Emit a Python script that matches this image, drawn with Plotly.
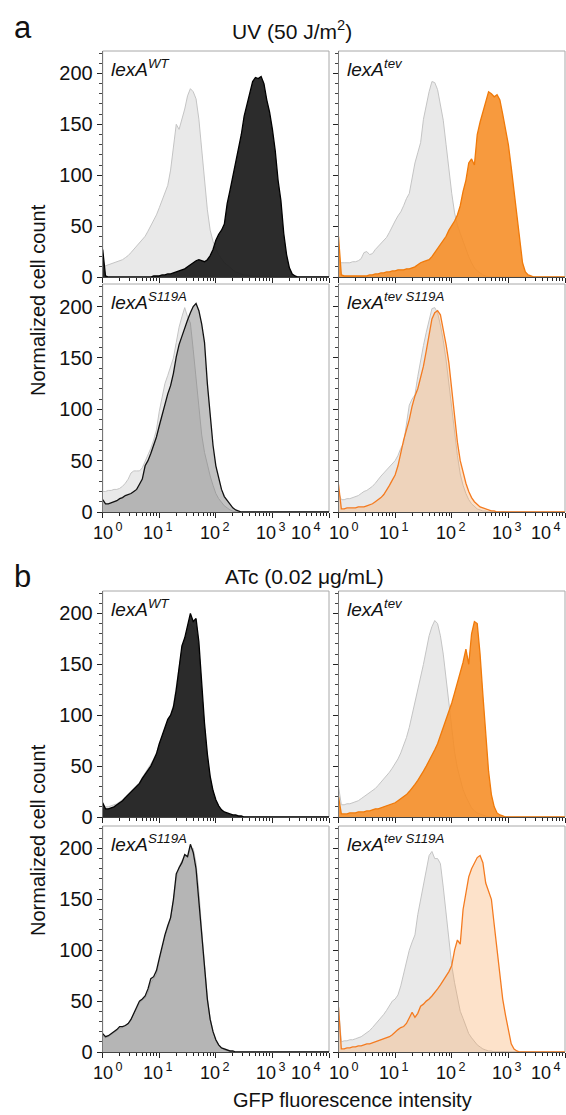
import plotly.graph_objects as go

W, H = 566, 1115
FONT = "Liberation Sans, Arial, sans-serif"

# histogram bins, log10 of GFP fluorescence intensity (0 = 10^0 ... 4 = 10^4)
log_gfp = [
    0.00, 0.05, 0.10, 0.15, 0.20, 0.25, 0.30, 0.35, 0.40, 0.45,
    0.50, 0.55, 0.60, 0.65, 0.70, 0.75, 0.80, 0.85, 0.90, 0.95,
    1.00, 1.05, 1.10, 1.15, 1.20, 1.25, 1.30, 1.35, 1.40, 1.45,
    1.50, 1.55, 1.60, 1.65, 1.70, 1.75, 1.80, 1.85, 1.90, 1.95,
    2.00, 2.05, 2.10, 2.15, 2.20, 2.25, 2.30, 2.35, 2.40, 2.45,
    2.50, 2.55, 2.60, 2.65, 2.70, 2.75, 2.80, 2.85, 2.90, 2.95,
    3.00, 3.05, 3.10, 3.15, 3.20, 3.25, 3.30, 3.35, 3.40, 3.45,
    3.50, 3.55, 3.60, 3.65, 3.70, 3.75, 3.80, 3.85, 3.90, 3.95,
    4.00,
]
Z10 = [0] * 10

# ---- a: UV (50 J/m2) ----
ref_uv_wt = [10, 11, 12, 13, 14, 15, 16, 17, 19, 21,
             24, 27, 30, 33, 37, 40, 45, 50, 55, 61,
             68, 75, 82, 90, 105, 130, 150, 145, 155, 165,
             178, 185, 182, 175, 155, 125, 92, 66, 46, 35,
             28, 22, 18, 14, 12, 9, 7, 5, 4, 3,
             2, 2, 1, 1, 0, 0, 0, 0, 0, 0] + Z10 + Z10 + [0]
uv_wt = [27, 1, 0, 0, 0, 0, 0, 0, 0, 0,
         0, 0, 0, 0, 0, 0, 0, 0, 1, 1,
         1, 2, 2, 3, 3, 4, 5, 6, 7, 8,
         10, 12, 14, 16, 17, 16, 15, 17, 21, 27,
         36, 42, 46, 52, 72, 85, 98, 113, 126, 140,
         158, 170, 181, 192, 196, 195, 197, 190, 174, 162,
         145, 124, 95, 75, 43, 22, 9, 3, 1, 0] + Z10 + [0]

ref_uv_tev = [17, 14, 14, 14, 14, 15, 15, 16, 18, 24,
              25, 22, 23, 27, 30, 33, 36, 39, 44, 50,
              55, 60, 64, 70, 77, 82, 96, 112, 122, 132,
              155, 170, 182, 192, 191, 184, 170, 154, 130, 103,
              82, 63, 51, 43, 35, 26, 20, 14, 9, 6,
              4, 2, 1, 0, 0, 0, 0, 0, 0, 0] + Z10 + Z10 + [0]
uv_tev = [40, 2, 1, 1, 1, 1, 1, 1, 1, 1,
          1, 2, 2, 3, 3, 4, 4, 5, 5, 6,
          6, 7, 7, 7, 8, 8, 9, 10, 12, 14,
          15, 16, 17, 20, 24, 28, 32, 36, 40, 46,
          50, 55, 61, 70, 84, 95, 112, 116, 110, 140,
          152, 162, 172, 182, 180, 177, 179, 174, 160, 146,
          130, 108, 84, 60, 36, 14, 5, 2, 1, 0] + Z10 + [0]

ref_uv_s119a = [20, 20, 21, 21, 22, 22, 23, 25, 28, 32,
                38, 40, 40, 40, 43, 49, 55, 62, 70, 80,
                98, 110, 125, 133, 142, 150, 165, 180, 190, 199,
                190, 184, 158, 130, 100, 75, 58, 46, 35, 26,
                18, 13, 9, 6, 4, 2, 1, 0, 0, 0] + Z10 + Z10 + Z10 + [0]
uv_s119a = [12, 8, 8, 9, 10, 11, 13, 14, 16, 17,
            18, 20, 22, 27, 32, 45, 50, 57, 65, 73,
            84, 95, 105, 115, 123, 135, 151, 163, 171, 180,
            187, 194, 200, 203, 196, 183, 165, 125, 93, 65,
            45, 32, 22, 15, 11, 7, 4, 2, 1, 0] + Z10 + Z10 + Z10 + [0]

ref_uv_tevs = [19, 12, 12, 13, 13, 14, 15, 16, 18, 20,
               21, 23, 25, 28, 32, 35, 38, 41, 44, 47,
               50, 55, 62, 67, 85, 104, 110, 114, 132, 148,
               162, 175, 188, 198, 199, 194, 182, 167, 148, 125,
               100, 75, 55, 37, 26, 18, 12, 8, 5, 3,
               2, 1, 1, 0, 0, 0, 0, 0, 0, 0] + Z10 + Z10 + [0]
uv_tevs = [27, 3, 3, 4, 4, 4, 4, 5, 5, 5,
           6, 7, 8, 10, 12, 14, 17, 21, 26, 31,
           36, 45, 58, 70, 80, 90, 103, 113, 120, 130,
           142, 157, 172, 188, 194, 196, 192, 178, 163, 145,
           120, 90, 68, 50, 38, 28, 20, 14, 10, 7,
           5, 4, 3, 2, 1, 1, 0, 0, 0, 0] + Z10 + Z10 + [0]

# ---- b: ATc (0.02 ug/mL) ----
ref_atc_wt = [12, 10, 10, 11, 12, 13, 15, 17, 20, 23,
              26, 28, 31, 34, 39, 43, 47, 52, 57, 63,
              72, 79, 86, 94, 100, 110, 128, 150, 165, 172,
              182, 190, 186, 180, 160, 122, 88, 60, 38, 25,
              16, 10, 7, 5, 3, 2, 1, 1, 0, 0] + Z10 + Z10 + Z10 + [0]
atc_wt = [14, 8, 8, 9, 10, 12, 14, 16, 19, 22,
          25, 27, 30, 33, 38, 42, 46, 50, 56, 62,
          72, 80, 88, 96, 100, 108, 125, 148, 168, 176,
          188, 200, 192, 195, 172, 130, 92, 62, 40, 26,
          17, 11, 7, 5, 4, 3, 2, 2, 1, 1,
          0, 0, 0, 0, 0, 0, 0, 0, 0, 0] + Z10 + Z10 + [0]

ref_atc_tev = [30, 12, 12, 13, 13, 14, 15, 16, 18, 20,
               22, 24, 26, 28, 31, 34, 37, 40, 44, 48,
               52, 57, 63, 70, 78, 88, 100, 112, 124, 136,
               150, 164, 178, 187, 193, 190, 178, 160, 135, 108,
               84, 64, 48, 36, 27, 20, 14, 9, 6, 4,
               3, 2, 1, 0, 0, 0, 0, 0, 0, 0] + Z10 + Z10 + [0]
atc_tev = [20, 3, 3, 3, 4, 4, 4, 5, 5, 5,
           6, 6, 7, 8, 8, 9, 10, 11, 12, 13,
           14, 16, 18, 20, 22, 25, 28, 32, 36, 40,
           45, 50, 55, 60, 66, 72, 80, 88, 95, 102,
           112, 122, 132, 142, 152, 165, 150, 180, 192, 190,
           160, 120, 80, 45, 22, 10, 4, 2, 1, 0] + Z10 + Z10 + [0]

ref_atc_s119a = [16, 14, 15, 17, 19, 21, 23, 24, 26, 28,
                 32, 37, 42, 48, 51, 53, 58, 68, 72, 76,
                 90, 102, 113, 122, 131, 148, 170, 182, 188, 192,
                 192, 200, 200, 186, 158, 120, 82, 52, 33, 20,
                 11, 6, 4, 2, 1, 1, 0, 0, 0, 0] + Z10 + Z10 + Z10 + [0]
atc_s119a = [18, 15, 16, 18, 20, 22, 25, 25, 26, 28,
             32, 38, 43, 50, 52, 55, 62, 72, 74, 80,
             92, 104, 115, 124, 132, 150, 175, 181, 186, 194,
             192, 204, 196, 180, 146, 112, 78, 52, 32, 20,
             12, 7, 4, 3, 2, 1, 1, 0, 0, 0] + Z10 + Z10 + Z10 + [0]

ref_atc_tevs = [45, 10, 11, 11, 12, 12, 13, 14, 15, 17,
                19, 21, 24, 27, 30, 33, 37, 41, 46, 50,
                52, 56, 65, 77, 88, 100, 108, 115, 135, 150,
                165, 182, 193, 197, 190, 190, 185, 162, 135, 108,
                85, 68, 52, 40, 33, 25, 18, 14, 10, 7,
                5, 3, 2, 1, 1, 0, 0, 0, 0, 0] + Z10 + Z10 + [0]
atc_tevs = [44, 3, 3, 4, 4, 5, 5, 6, 6, 7,
            8, 8, 9, 10, 11, 12, 13, 14, 15, 17,
            20, 22, 24, 25, 28, 33, 39, 34, 38, 45,
            47, 50, 52, 55, 58, 62, 66, 70, 74, 79,
            85, 100, 110, 106, 140, 158, 172, 180, 186, 191,
            193, 186, 166, 158, 150, 125, 100, 72, 52, 36,
            20, 8, 3, 1, 0, 0, 0, 0, 0, 0] + Z10 + [0]

gfp = [10 ** v for v in log_gfp]

decades = [0, 1, 2, 3, 4]
y_ticks = [0, 50, 100, 150, 200]

STYLES = {
    "wt": dict(fill="rgba(28,28,28,0.93)", line="#000000"),
    "tev": dict(fill="rgba(246,140,35,0.88)", line="#f07a0a"),
    "s119a": dict(fill="rgba(110,110,110,0.42)", line="#111111"),
    "tevs": dict(fill="rgba(248,165,90,0.32)", line="#f47b20"),
}
LABELS = {
    "wt": "<i>lexA<sup>WT</sup></i>",
    "tev": "<i>lexA<sup>tev</sup></i>",
    "s119a": "<i>lexA<sup>S119A</sup></i>",
    "tevs": "<i>lexA<sup>tev S119A</sup></i>",
}

# (reference, sample, style, column, row)
panels = [
    (ref_uv_wt, uv_wt, "wt", 0, 0),
    (ref_uv_tev, uv_tev, "tev", 1, 0),
    (ref_uv_s119a, uv_s119a, "s119a", 0, 1),
    (ref_uv_tevs, uv_tevs, "tevs", 1, 1),
    (ref_atc_wt, atc_wt, "wt", 0, 2),
    (ref_atc_tev, atc_tev, "tev", 1, 2),
    (ref_atc_s119a, atc_s119a, "s119a", 0, 3),
    (ref_atc_tevs, atc_tevs, "tevs", 1, 3),
]

# panel edges in pixels
COLS = [(102.7, 329), (338.5, 565)]
ROWS = [(51, 277), (284, 512), (591, 817), (826, 1052)]

minor_x = [m * 10 ** d for d in range(4) for m in range(2, 10)]

fig = go.Figure()
layout = {}
annotations = []
shapes = []

for i, (ref, smp, kind, col, row) in enumerate(panels, start=1):
    xa = "x" if i == 1 else f"x{i}"
    ya = "y" if i == 1 else f"y{i}"
    st = STYLES[kind]
    fig.add_trace(go.Scatter(x=gfp, y=ref, mode="lines", fill="tozeroy",
                             fillcolor="#e9e9e9", line=dict(color="#c4c4c4", width=1),
                             xaxis=xa, yaxis=ya, hoverinfo="skip"))
    fig.add_trace(go.Scatter(x=gfp, y=smp, mode="lines", fill="tozeroy",
                             fillcolor=st["fill"], line=dict(color=st["line"], width=1.3),
                             xaxis=xa, yaxis=ya, hoverinfo="skip"))

    x0, x1 = COLS[col]
    top, bot = ROWS[row]
    layout["xaxis" if i == 1 else f"xaxis{i}"] = dict(
        type="log", range=[0, 4], domain=[x0 / W, x1 / W], anchor=ya,
        tickvals=[10 ** d for d in decades], showticklabels=False,
        ticks="outside", ticklen=5, tickwidth=1, tickcolor="#222",
        minor=dict(tickvals=minor_x, ticks="outside", ticklen=3, tickcolor="#222", showgrid=False),
        showline=True, linecolor="#444", linewidth=1,
        showgrid=False, zeroline=False, automargin=False,
    )
    layout["yaxis" if i == 1 else f"yaxis{i}"] = dict(
        range=[0, 222], domain=[1 - bot / H, 1 - top / H], anchor=xa,
        tickvals=y_ticks, showticklabels=(col == 0),
        ticks="outside", ticklen=5, tickwidth=1, tickcolor="#222",
        minor=dict(dtick=10, ticks="outside", ticklen=3, tickcolor="#444", showgrid=False),
        showline=True, linecolor="#777", linewidth=1,
        showgrid=False, zeroline=False, automargin=False,
        tickfont=dict(family=FONT, size=20, color="#111"),
    )
    shapes.append(dict(type="rect", xref=f"{xa} domain", yref=f"{ya} domain",
                       x0=0, x1=1, y0=0, y1=1, line=dict(color="#a8a8a8", width=1),
                       layer="below"))
    annotations.append(dict(text=LABELS[kind], xref=f"{xa} domain", yref=f"{ya} domain",
                            x=0.03, y=0.985, xanchor="left", yanchor="top", showarrow=False,
                            font=dict(family=FONT, size=19, color="#111")))

    # decade labels under the bottom panel of each group, kept inside the panel width
    if row in (1, 3):
        for d in decades:
            if d == 0:
                anchor, shift = "center", 5
            elif d == 4:
                anchor, shift = "right", -6 if col == 0 else -2
            else:
                anchor, shift = "center", -1
            annotations.append(dict(
                text=f"10<sup>\u2009{d}</sup>", xref=xa, yref=f"{ya} domain",
                x=d, y=0, xanchor=anchor, yanchor="top", xshift=shift, yshift=-6,
                showarrow=False, font=dict(family=FONT, size=18, color="#111")))


def px_note(text, x, y, size, angle=0, xanchor="center"):
    return dict(text=text, xref="paper", yref="paper", x=x / W, y=1 - y / H,
                xanchor=xanchor, yanchor="middle", showarrow=False, textangle=angle,
                font=dict(family=FONT, size=size, color="#111"))


annotations += [
    px_note("a", 12, 27, 31, xanchor="left"),
    px_note("UV (50 J/m<sup>2</sup>)", 292, 30, 21),
    px_note("b", 12, 576, 31, xanchor="left"),
    px_note("ATc (0.02 \u03bcg/mL)", 304, 576, 21),
    px_note("Normalized cell count", 38, 300, 20, angle=-90),
    px_note("Normalized cell count", 38, 840, 20, angle=-90),
    px_note("GFP fluorescence intensity", 352, 1100, 20),
]

fig.update_layout(
    width=W, height=H, margin=dict(l=0, r=0, t=0, b=0, autoexpand=False),
    paper_bgcolor="white", plot_bgcolor="white", showlegend=False,
    font=dict(family=FONT, color="#111"),
    annotations=annotations, shapes=shapes, **layout,
)

# the page's default body margin would push the figure off the window
fig.write_html("out.html", config={"displayModeBar": False},
               post_script="document.body.style.margin = '0px';")
